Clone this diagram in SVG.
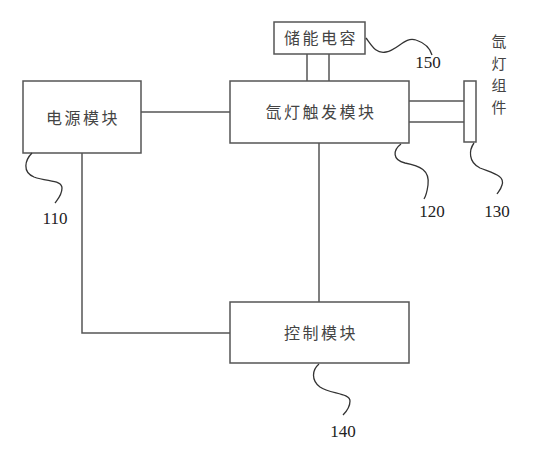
<svg xmlns="http://www.w3.org/2000/svg" width="544" height="452" viewBox="0 0 544 452">
<style>
.box{fill:#fff;stroke:#555;stroke-width:1.5}
.ln{fill:none;stroke:#555;stroke-width:1.5}
.ld{fill:none;stroke:#333;stroke-width:1.3}
.t{font-family:"Noto Sans CJK SC","Noto Sans",sans-serif;font-size:16px;fill:#444;letter-spacing:2.5px;text-anchor:middle}
.v{font-family:"Noto Sans CJK SC","Noto Sans",sans-serif;font-size:15px;fill:#444;text-anchor:middle}
.n{font-family:"Liberation Serif",serif;font-size:17px;fill:#222;text-anchor:middle}
</style>
<rect width="544" height="452" fill="#fff"/>
<g id="connectors">
<path class="ln" d="M141,112 H230"/>
<path class="ln" d="M307,54 V81 M329,54 V81"/>
<path class="ln" d="M409,101 H464 M409,122 H464"/>
<path class="ln" d="M319,143 V302"/>
<path class="ln" d="M82,153 V333 H230"/>
</g>
<g id="storage">
<rect class="box" x="274" y="22" width="91" height="32"/>
<text class="t" x="321" y="44">储能电容</text>
</g>
<g id="trigger">
<rect class="box" x="230" y="81" width="179" height="62"/>
<text class="t" x="321" y="118">氙灯触发模块</text>
</g>
<g id="power">
<rect class="box" x="23" y="81" width="118" height="72"/>
<text class="t" x="83" y="124">电源模块</text>
</g>
<g id="control">
<rect class="box" x="230" y="302" width="179" height="61"/>
<text class="t" x="321" y="339">控制模块</text>
</g>
<g id="lamp">
<rect class="box" x="464" y="81" width="12" height="61"/>
<text class="v" x="499" y="47">氙</text>
<text class="v" x="499" y="69">灯</text>
<text class="v" x="499" y="91">组</text>
<text class="v" x="499" y="113">件</text>
</g>
<g id="labels">
<path class="ld" d="M366,38 C372,46 376,54 386,52 C398,50 405,36 416,40 C425,43 430,48 432,55"/>
<text class="n" x="428" y="68">150</text>
<path class="ld" d="M401,144 C393,150 392,160 405,163 C420,166 430,170 428,185 C427,192 426,196 424,199"/>
<text class="n" x="432" y="217">120</text>
<path class="ld" d="M474,143 C469,150 468,162 480,168 C495,174 505,176 502,185 C501,189 499,191 497,194"/>
<text class="n" x="497" y="217">130</text>
<path class="ld" d="M32,153 C25,160 22,172 34,177 C48,182 62,180 62,188 C62,195 58,199 55,203"/>
<text class="n" x="55" y="224">110</text>
<path class="ld" d="M319,364 C312,370 311,380 320,387 C330,394 350,393 350,401 C350,408 346,412 343,415"/>
<text class="n" x="343" y="437">140</text>
</g>
</svg>
